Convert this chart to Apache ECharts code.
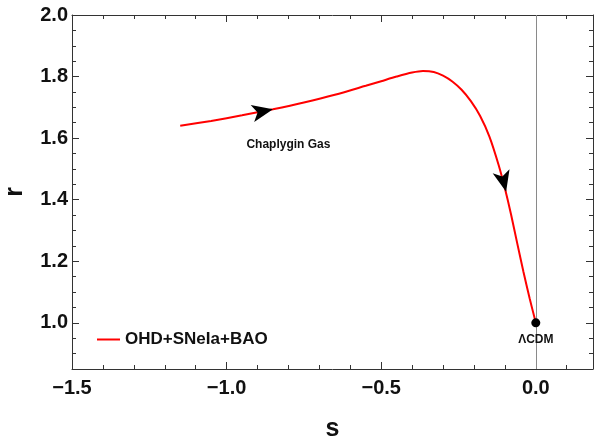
<!DOCTYPE html>
<html>
<head>
<meta charset="utf-8">
<script src="https://cdn.jsdelivr.net/npm/echarts@6/dist/echarts.min.js"></script>
<style>html,body{margin:0;padding:0;background:#fff;}#c{width:596px;height:437px;}</style>
</head>
<body>
<div id="c"></div>
<script>
// ---- data ----
var curveS = [-1.15, -1.05, -0.95, -0.85, -0.75, -0.65, -0.55, -0.50, -0.45, -0.40, -0.365, -0.33, -0.30, -0.27, -0.24, -0.21, -0.18, -0.15, -0.12, -0.10, -0.08, -0.06, -0.04, -0.02, 0.0];
var curveR = [1.640, 1.656, 1.674, 1.694, 1.716, 1.741, 1.770, 1.785, 1.800, 1.813, 1.818, 1.815, 1.803, 1.784, 1.757, 1.720, 1.672, 1.605, 1.512, 1.437, 1.352, 1.258, 1.166, 1.080, 1.000];
var arrowS = [-0.85, -0.096];
var arrowR = [1.694, 1.426];
var pointS = [0.0];
var pointR = [1.0];
var pointLabel = ['\u039BCDM'];
var noteS = [-0.80];
var noteR = [1.578];
var noteLabel = ['Chaplygin Gas'];
var xMajor = [-1.5, -1.0, -0.5, 0.0];
var yMajor = [1.0, 1.2, 1.4, 1.6, 1.8, 2.0];
var seriesName = 'OHD+SNeIa+BAO';

var xMin = -1.5, xMax = 0.185, yMin = 0.85, yMax = 2.0;
var xMinor = [], yMinor = [];
for (var i = 0; i <= 17; i++) xMinor.push(+(-1.5 + i * 0.1).toFixed(2));
for (var j = 0; j <= 23; j++) yMinor.push(+(0.85 + j * 0.05).toFixed(2));

var FONT = '"Liberation Sans", Arial, sans-serif';
var AX = '#333';

function mk(arr1, arr2) { return arr1.map(function (v, k) { return [v, arr2[k]]; }); }
function fmt(v) { return v.toFixed(1).replace('-', '\u2212'); }

function xAx(pos, vals, len, showLine, showLabel, extra) {
  var a = {
    type: 'value', position: pos, min: xMin, max: xMax,
    axisLine: { show: showLine, onZero: false, lineStyle: { color: AX, width: 1 } },
    axisTick: { show: true, inside: true, length: len, customValues: vals, lineStyle: { color: AX } },
    axisLabel: showLabel ? { show: true, customValues: vals, formatter: fmt, margin: 9,
      fontFamily: FONT, fontWeight: 'bold', fontSize: 20, color: '#111' } : { show: false },
    splitLine: { show: false }
  };
  return Object.assign(a, extra || {});
}
function yAx(pos, vals, len, showLine, showLabel, extra) {
  var a = {
    type: 'value', position: pos, min: yMin, max: yMax,
    axisLine: { show: showLine, onZero: false, lineStyle: { color: AX, width: 1 } },
    axisTick: { show: true, inside: true, length: len, customValues: vals, lineStyle: { color: AX } },
    axisLabel: showLabel ? { show: true, customValues: vals, formatter: function (v) { return v.toFixed(1); }, margin: 4,
      fontFamily: FONT, fontWeight: 'bold', fontSize: 20, color: '#111' } : { show: false },
    splitLine: { show: false }
  };
  return Object.assign(a, extra || {});
}

var chart = echarts.init(document.getElementById('c'), null, { renderer: 'canvas' });

var option = {
  animation: false,
  backgroundColor: '#fff',
  grid: { left: 72, right: 3, top: 15, bottom: 68, containLabel: false, outerBoundsMode: 'none' },
  legend: {
    show: true, left: 92, top: 326, icon: 'rect', itemWidth: 23, itemHeight: 2, itemGap: 8,
    data: [seriesName],
    textStyle: { fontFamily: FONT, fontWeight: 'bold', fontSize: 17, color: '#111' }
  },
  xAxis: [
    xAx('bottom', xMajor, 7, true, true, { name: 's', nameLocation: 'middle', nameGap: 48,
      nameTextStyle: { fontFamily: FONT, fontWeight: 'bold', fontSize: 25, color: '#111' } }),
    xAx('bottom', xMinor, 4, false, false),
    xAx('top', xMajor, 7, true, false),
    xAx('top', xMinor, 4, false, false)
  ],
  yAxis: [
    yAx('left', yMajor, 7, true, true, { name: 'r', nameLocation: 'middle', nameGap: 44,
      nameTextStyle: { fontFamily: FONT, fontWeight: 'bold', fontSize: 25, color: '#111' } }),
    yAx('left', yMinor, 4, false, false),
    yAx('right', yMajor, 7, true, false),
    yAx('right', yMinor, 4, false, false)
  ],
  series: [
    {
      name: seriesName, type: 'line', xAxisIndex: 0, yAxisIndex: 0,
      data: mk(curveS, curveR), smooth: 0.3, showSymbol: false, symbol: 'none',
      lineStyle: { color: '#ff0000', width: 2 }, itemStyle: { color: '#ff0000' }, z: 3,
      markLine: {
        silent: true, symbol: 'none', label: { show: false },
        lineStyle: { color: '#8a8a8a', width: 1, type: 'solid' },
        data: [{ xAxis: 0 }]
      }
    },
    {
      name: 'arrows', type: 'scatter', xAxisIndex: 0, yAxisIndex: 0,
      data: mk(arrowS, arrowR), symbol: 'arrow', symbolSize: [13, 21],
      itemStyle: { color: '#000', opacity: 1 }, z: 5, silent: true
    },
    {
      name: 'point', type: 'scatter', xAxisIndex: 0, yAxisIndex: 0,
      data: mk(pointS, pointR), symbol: 'circle', symbolSize: 9,
      itemStyle: { color: '#000', opacity: 1 }, z: 6, silent: true,
      label: { show: true, position: 'bottom', distance: 6,
        formatter: function (p) { return pointLabel[p.dataIndex]; },
        fontFamily: FONT, fontWeight: 'bold', fontSize: 12, color: '#111', opacity: 1 }
    },
    {
      name: 'note', type: 'scatter', xAxisIndex: 0, yAxisIndex: 0,
      data: mk(noteS, noteR), symbolSize: 0, silent: true,
      itemStyle: { opacity: 1 },
      label: { show: true, position: 'inside',
        formatter: function (p) { return noteLabel[p.dataIndex]; },
        fontFamily: FONT, fontWeight: 'bold', fontSize: 12, color: '#111', opacity: 1 }
    }
  ]
};
chart.setOption(option);

// orient arrows along the curve using the library's own pixel conversion
function curveAt(s) {
  for (var k = 0; k < curveS.length - 1; k++) {
    if (s >= curveS[k] && s <= curveS[k + 1]) {
      var t = (s - curveS[k]) / (curveS[k + 1] - curveS[k]);
      return curveR[k] + t * (curveR[k + 1] - curveR[k]);
    }
  }
  return curveR[curveR.length - 1];
}
var arrowData = arrowS.map(function (s, k) {
  var d = 0.012;
  var p0 = chart.convertToPixel({ xAxisIndex: 0, yAxisIndex: 0 }, [s - d, curveAt(s - d)]);
  var p1 = chart.convertToPixel({ xAxisIndex: 0, yAxisIndex: 0 }, [s + d, curveAt(s + d)]);
  var ang = Math.atan2(-(p1[1] - p0[1]), p1[0] - p0[0]) * 180 / Math.PI;
  return { value: [s, arrowR[k]], symbolRotate: ang - 90 };
});
chart.setOption({ series: [{}, { data: arrowData }] });
</script>
</body>
</html>
